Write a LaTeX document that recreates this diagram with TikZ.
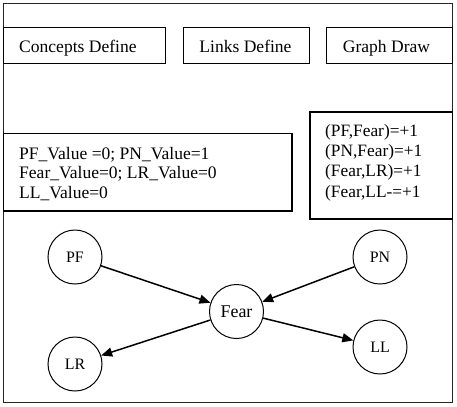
\documentclass[tikz,border=0pt]{standalone}
\usepackage{fontspec}
\setmainfont{Liberation Serif}
\usetikzlibrary{arrows.meta}
\begin{document}
\begin{tikzpicture}[x=1bp,y=-1bp,
  boxline/.style={draw, line width=1.1bp},
  txt/.style={inner sep=0pt, anchor=base west, align=left},
  bigfont/.style={font=\fontsize{17.6}{19.7}\selectfont},
  conc/.style={draw, circle, line width=1bp, minimum size=54bp, inner sep=0pt, font=\fontsize{16}{18}\selectfont},
  link/.style={line width=1.5bp, -{Triangle[length=11bp,width=9bp]}}]
\useasboundingbox (0,0) rectangle (457,406);
\draw[line width=1.6bp, draw=black!85] (3.5,3.5) rectangle (452.5,402.5);
% top boxes
\draw[boxline] (3.5,27.5) rectangle (165.5,63.5);
\draw[boxline] (183.5,27.5) rectangle (309.5,63.5);
\draw[boxline] (326.5,27.5) rectangle (452.5,63.5);
\node[txt, bigfont] (cd) at (19,52) {Concepts Define};
\node[txt, bigfont, anchor=base] (ld) at (245.5,52) {Links Define};
\node[txt, bigfont, anchor=base] (gd) at (386.5,52) {Graph Draw};
% value box
\draw[boxline] (3.5,133.5) rectangle (292,211);
\node[txt, bigfont] (vals) at (19,198.5) {PF\_Value =0; PN\_Value=1\\Fear\_Value=0; LR\_Value=0\\LL\_Value=0};
% links box
\draw[boxline] (310,112) rectangle (452.5,219);
\node[txt, font=\fontsize{17.4}{20.3}\selectfont] (links) at (325,197) {(PF,Fear)=+1\\(PN,Fear)=+1\\(Fear,LR)=+1\\(Fear,LL-=+1};
% graph
\node[conc] (PF) at (75,257) {PF};
\node[conc] (PN) at (380,257) {PN};
\node[conc, font=\fontsize{18}{20}\selectfont] (Fear) at (236.5,311.5) {Fear};
\node[conc] (LR) at (75,364) {LR};
\node[conc] (LL) at (380,347) {LL};
\draw[link] (PF) -- (Fear);
\draw[link] (PN) -- (Fear);
\draw[link] (Fear) -- (LR);
\draw[link] (Fear) -- (LL);
\end{tikzpicture}
\end{document}
